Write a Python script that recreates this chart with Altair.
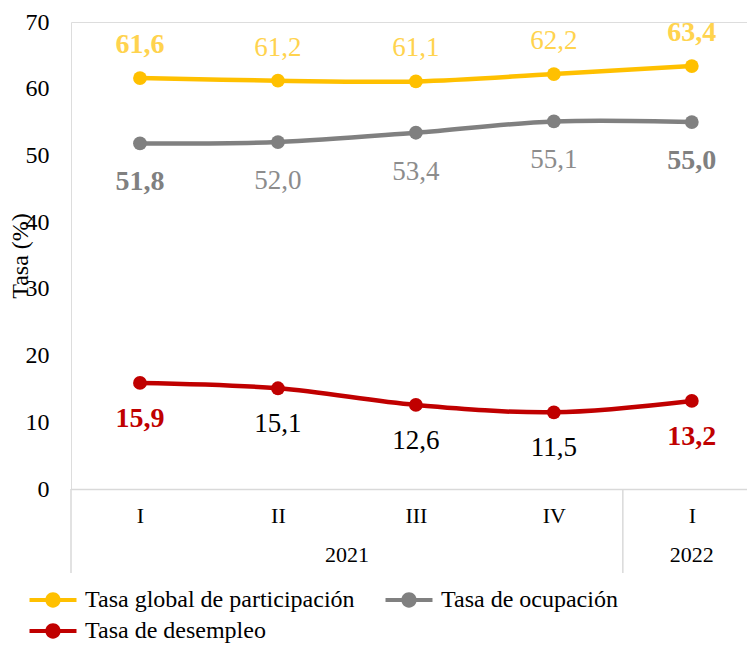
import altair as alt
import pandas as pd

quarters = ["I", "II", "III", "IV", "I"]
years = ["2021", "2021", "2021", "2021", "2022"]
series_names = ["Tasa global de participación", "Tasa de ocupación", "Tasa de desempleo"]
tgp = [61.6, 61.2, 61.1, 62.2, 63.4]
tocu = [51.8, 52.0, 53.4, 55.1, 55.0]
tdes = [15.9, 15.1, 12.6, 11.5, 13.2]

line_colors = ["#FFC000", "#808080", "#C00000"]
label_colors_bold = ["#FFD34E", "#808080", "#C00000"]
label_colors_norm = ["#FFD34E", "#8C8C8C", "#000000"]
label_dy = [-33, 39, 36]

FONT = "Liberation Serif"
W, H = 676, 467

rows = []
for s, vals in enumerate([tgp, tocu, tdes]):
    for i, v in enumerate(vals):
        bold = i == 0 or i == len(vals) - 1
        rows.append({
            "series": series_names[s],
            "sidx": s,
            "idx": i,
            "value": v,
            "label": f"{v:.1f}".replace(".", ","),
            "bold": bold,
            "lcolor": label_colors_bold[s] if bold else label_colors_norm[s],
        })
df = pd.DataFrame(rows)

# year groups
year_rows = []
bounds = [-0.5]
uniq = []
for y in years:
    if y not in uniq:
        uniq.append(y)
for y in uniq:
    ids = [i for i, yy in enumerate(years) if yy == y]
    year_rows.append({"idx": (ids[0] + ids[-1]) / 2, "year": y})
    bounds.append(ids[-1] + 0.5)
df_years = pd.DataFrame(year_rows)
df_bounds = pd.DataFrame({"idx": bounds[:-1]})

label_expr = "[" + ",".join(f"'{q}'" for q in quarters) + "][datum.value]"

x_enc = alt.X(
    "idx:Q",
    scale=alt.Scale(domain=[-0.5, 4.4], nice=False, zero=False),
    axis=alt.Axis(
        values=list(range(len(quarters))), labelExpr=label_expr, title=None,
        ticks=False, tickSize=0, grid=False, domainColor="#D9D9D9", domainWidth=1.5,
        labelFont=FONT, labelFontSize=22, labelColor="#000000", labelPadding=16,
    ),
)
y_enc = alt.Y(
    "value:Q",
    scale=alt.Scale(domain=[0, 70], nice=False),
    axis=alt.Axis(
        values=list(range(0, 71, 10)), title="Tasa (%)", domain=False, ticks=False,
        tickSize=0, grid=False, labelFont=FONT, labelFontSize=24, labelColor="#000000",
        labelPadding=22, titleFont=FONT, titleFontSize=24, titleFontWeight="normal",
        titleColor="#000000", titleAngle=-90, titleX=-51, titleY=H / 2,
        titleAlign="center", titleBaseline="middle",
    ),
)

# legend fills column by column: order so that rows read part., ocup. / desempleo
legend_order = [series_names[0], series_names[2], series_names[1]]
legend_colors = [line_colors[0], line_colors[2], line_colors[1]]

color_enc = alt.Color(
    "series:N",
    scale=alt.Scale(domain=legend_order, range=legend_colors),
    sort=legend_order,
    legend=alt.Legend(
        title=None, orient="none", legendX=-30, legendY=566, columns=2,
        symbolType="M-2,-0.17L2,-0.17L2,0.17L-2,0.17Z M0.65,0A0.65,0.65,0,1,1,-0.65,0A0.65,0.65,0,1,1,0.65,0Z",
        symbolSize=552, symbolStrokeWidth=0, symbolOpacity=1,
        labelFont=FONT, labelFontSize=24, labelColor="#000000", labelOffset=20,
        columnPadding=30, rowPadding=7, padding=0, labelLimit=400,
    ),
)

base = alt.Chart(df)
lines = base.mark_line(interpolate="catmull-rom", strokeWidth=4.5).encode(
    x=x_enc, y=y_enc, color=color_enc, detail="series:N"
)
points = base.mark_point(filled=True, size=190, opacity=1).encode(
    x=x_enc, y=y_enc, color=color_enc
)

label_layers = []
for s in range(3):
    for bold in [True, False]:
        lay = base.transform_filter(
            (alt.datum.sidx == s) & (alt.datum.bold == bold)
        ).mark_text(
            dy=label_dy[s], font=FONT, fontSize=28 if bold else 27,
            fontWeight="bold" if bold else "normal",
        ).encode(
            x=x_enc, y=y_enc, text="label:N", color=alt.Color("lcolor:N", scale=None)
        )
        label_layers.append(lay)

years_layer = alt.Chart(df_years).mark_text(
    font=FONT, fontSize=22, color="#000000", baseline="middle"
).encode(x=x_enc, y=alt.value(H + 66), text="year:N")

seps = alt.Chart(df_bounds).mark_rule(color="#D9D9D9", strokeWidth=1.5).encode(
    x=x_enc, y=alt.value(H), y2=alt.value(H + 84)
)

chart = alt.layer(seps, lines, points, *label_layers, years_layer).properties(
    width=W, height=H,
    autosize=alt.AutoSizeParams(type="none"),
    padding={"left": 63, "top": 14, "right": 0, "bottom": 155},
).configure_view(stroke=None).configure(background="#FFFFFF")

chart.save("out.html", embed_options={"renderer": "svg", "actions": False})
